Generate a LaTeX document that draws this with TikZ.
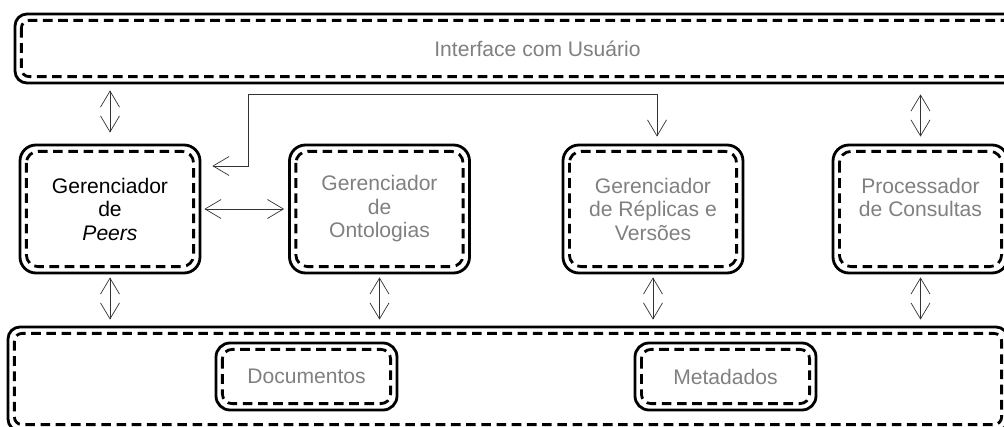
\documentclass[tikz,border=0pt]{standalone}
\usepackage{fontspec}
\setmainfont{Liberation Sans}
\usepackage{tikz}
\usetikzlibrary{arrows.meta}
\tikzset{
  every picture/.style={font={\fontsize{15}{16.7}\selectfont},
    >={Straight Barb[length=4mm, width=4.75mm]}}}

\begin{document}
\begin{tikzpicture}[x=0.25mm, y=-0.25mm,
    modulo/.style={
      draw, line width=2pt, rounded corners=#1,
      align=center, inner sep=0pt, text=black!50,
      minimum width=45mm, minimum height=32mm,
      path picture={
        \draw[tracejado, rounded corners=#1-1.1mm]
          ([shift={(1.6mm,-1.6mm)}]path picture bounding box.north west)
          rectangle
          ([shift={(-1.6mm,1.6mm)}]path picture bounding box.south east);}},
    modulo/.default=4mm,
    tracejado/.style={line width=2pt, dash pattern=on 2.4mm off 1.4mm},
    seta/.style={<->, line width=0.5pt, draw=black!80}]

  \useasboundingbox (0,0) rectangle (1004,427);
  \clip (0,0) rectangle (1004,427);

  \node[modulo=3mm, minimum width=261.25mm, minimum height=17.25mm]
    (interface) at (537.5, 48.5) {Interface com Usuário};

  \node[modulo, text=black] (peers) at (110, 209)
    {Gerenciador\\de\\\textit{Peers}};
  \node[modulo] (ontologias) at (379.5, 209)
    {Gerenciador\\de\\Ontologias};
  \node[modulo] (replicas) at (653, 209)
    {Gerenciador\\de Réplicas e\\Versões};
  \node[modulo, minimum width=43.75mm] (consultas) at (920.5, 209)
    {Processador\\de Consultas\\\mbox{}};

  \node[modulo=3mm, minimum width=250mm, minimum height=26mm]
    (dados) at (508, 379) {};
  \node[modulo=3.5mm, minimum width=45.25mm, minimum height=16.75mm]
    (documentos) at (306.5, 376.5) {Documentos};
  \node[modulo=3.5mm, minimum width=45.25mm, minimum height=16.75mm]
    (metadados) at (725.5, 376.5) {Metadados};

  % ligacoes
  \draw[seta, shorten <=1.5mm, shorten >=2.75mm]
    (peers.north |- interface.south) -- (peers.north);
  \draw[seta, shorten <=2.5mm, shorten >=1.75mm]
    (consultas.north |- interface.south) -- (consultas.north);
  \draw[seta, shorten <=0.75mm, shorten >=1mm] (peers.east) -- (ontologias.west);

  \coordinate (dobra) at (248, 94);
  \draw[seta, shorten <=2.75mm, shorten >=1.75mm]
    ([yshift=10.75mm]peers.east) -| (dobra) -| ([xshift=1mm]replicas.north);

  \foreach \m in {peers, ontologias, replicas, consultas}
    \draw[seta, shorten <=0.75mm, shorten >=1.5mm]
      (\m.south) -- (\m.south |- dados.north);
\end{tikzpicture}
\end{document}
